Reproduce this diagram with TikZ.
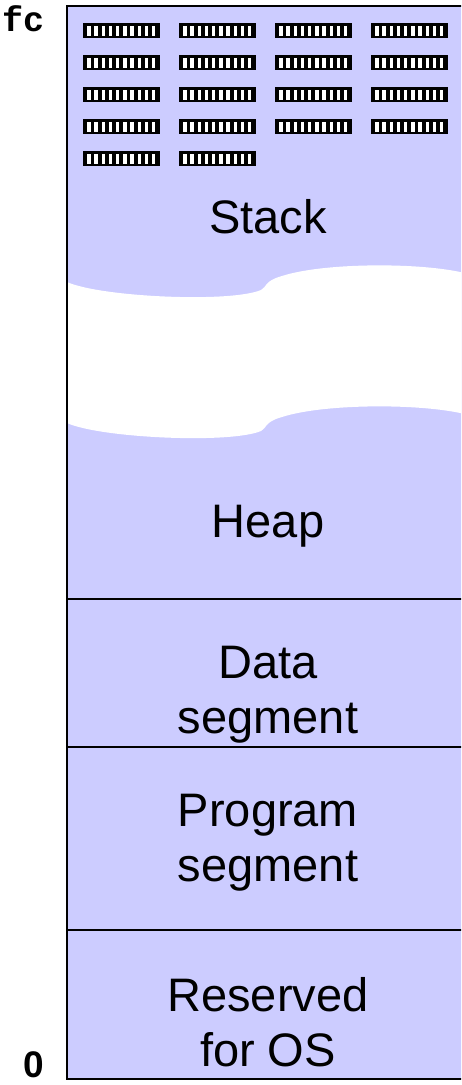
\documentclass[tikz,border=0pt]{standalone}
\usepackage{fontspec}
\setmainfont{Liberation Sans}
\newfontfamily\addrfont{Liberation Mono}
\definecolor{segfill}{HTML}{CCCCFF}
\begin{document}
\begin{tikzpicture}[x=1pt,y=-1pt,
  seglabel/.style={font=\fontsize{47}{55}\selectfont, align=center, inner sep=0pt},
  addr/.style={font=\addrfont\bfseries\fontsize{35}{35}\selectfont, inner sep=0pt},
  zerolabel/.style={font=\bfseries\fontsize{37}{37}\selectfont, inner sep=0pt},
  divider/.style={line width=2pt, black},
  border/.style={line width=2.6pt, black},
  bitbox/.style={fill=black},
  bitslit/.style={fill=white}]
\useasboundingbox (0,0) rectangle (461,1085);
\clip (0,0) rectangle (461,1085);
% memory block
\fill[segfill] (67,6) rectangle (472,1079);
% free gap between stack and heap
\fill[white] (67,282) .. controls (100,297) and (230,303) .. (261,290)
  .. controls (267,287) and (264,281) .. (282,276)
  .. controls (325,262) and (430,262) .. (472,275)
  -- (472,416)
  .. controls (430,403) and (325,403) .. (282,417)
  .. controls (264,422) and (267,428) .. (261,431)
  .. controls (230,444) and (100,438) .. (67,423) -- cycle;
% bit patterns
\foreach \r/\n in {0/4,1/4,2/4,3/4,4/2} {
  \foreach \c in {1,...,\n} {
    \pgfmathsetmacro{\bx}{83+(\c-1)*96}
    \pgfmathsetmacro{\by}{23+\r*32}
    \fill[bitbox] (\bx,\by) rectangle ++(77,15);
    \foreach \i in {0,...,9} {
      \fill[bitslit] (\bx+4.2+\i*7.2,\by+3) rectangle ++(3.4,9.5);
    }
  }
}
% dividers
\coordinate (d1l) at (67,599); \coordinate (d1r) at (472,599);
\coordinate (d2l) at (67,747); \coordinate (d2r) at (472,747);
\coordinate (d3l) at (67,930); \coordinate (d3r) at (472,930);
\draw[divider] (d1l) -- (d1r);
\draw[divider] (d2l) -- (d2r);
\draw[divider] (d3l) -- (d3r);
% border
\draw[border] (472,6) -- (67,6) -- (67,1079) -- (472,1079);
% labels
\node[seglabel, anchor=base] (stack) at (268,233) {Stack};
\node[seglabel, anchor=base] (heap) at (268,537) {Heap};
\node[seglabel] (data) at (268,695) {Data\\segment};
\node[seglabel] (prog) at (268,843) {Program\\segment};
\node[seglabel] (os) at (268,1022) {Reserved\\for OS};
% addresses
\node[addr, anchor=base west] (top) at (2,31) {fc};
\node[zerolabel, anchor=base] (zero) at (33.5,1077) {0};
\end{tikzpicture}
\end{document}
